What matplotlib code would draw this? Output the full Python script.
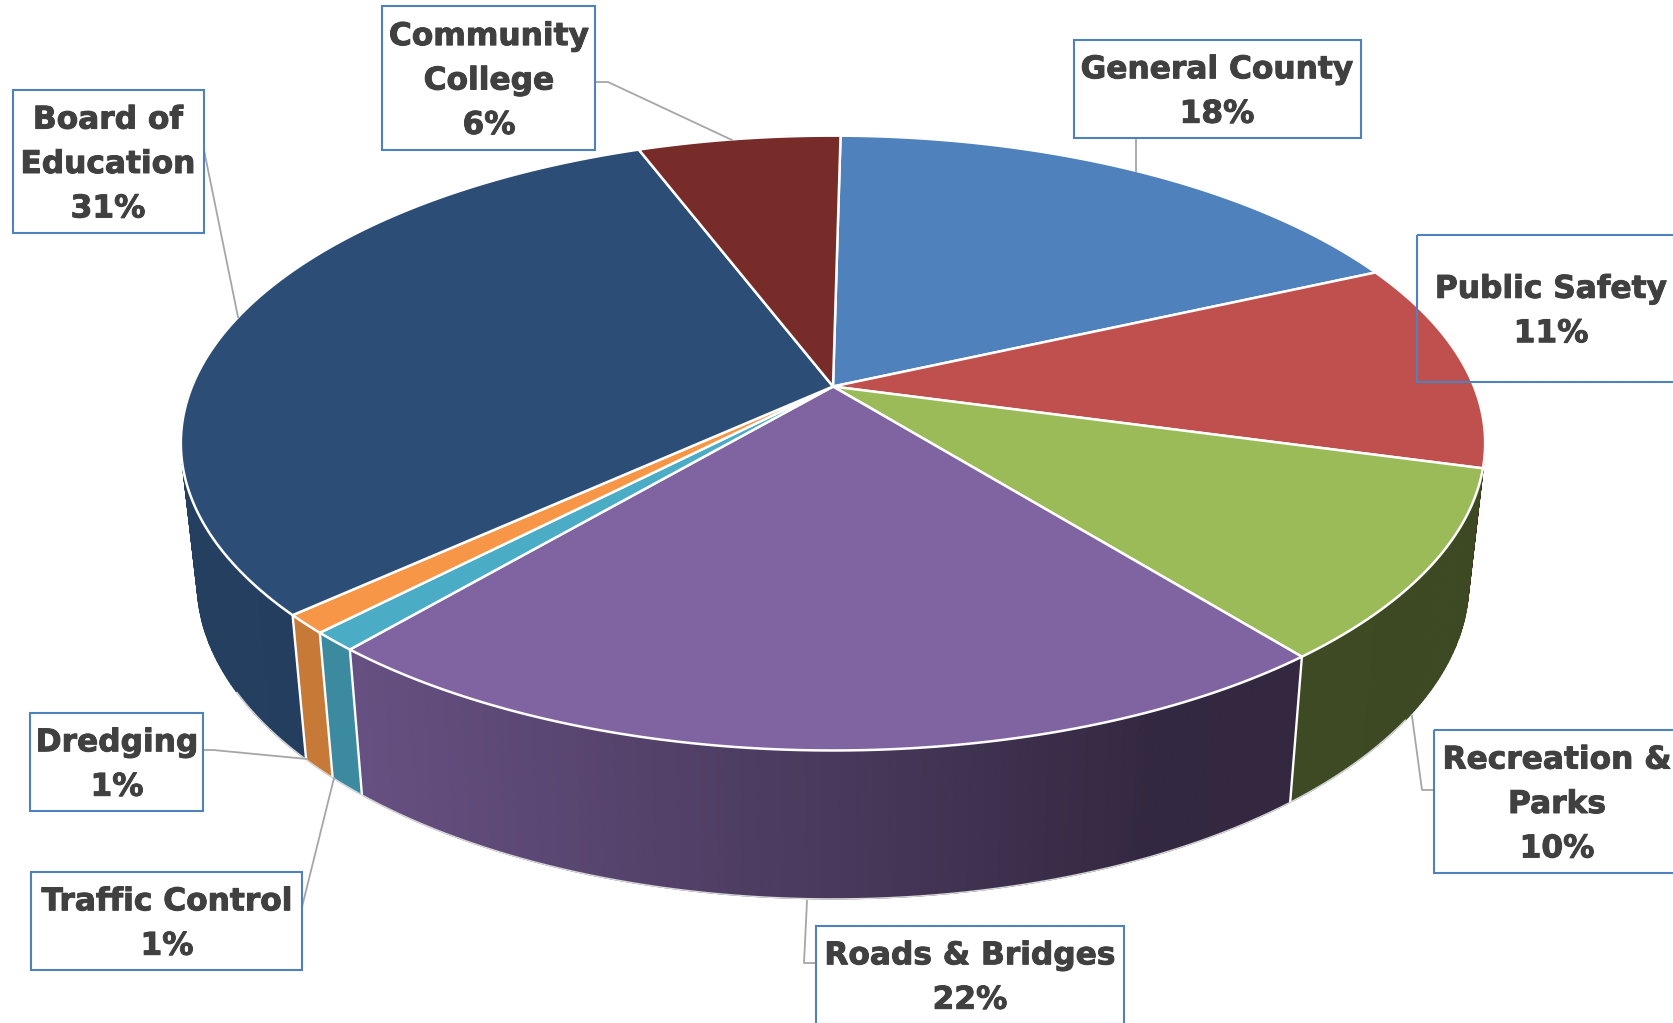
import numpy as np
import matplotlib
matplotlib.use('Agg')
import matplotlib.pyplot as plt
import matplotlib.patheffects as pe
from matplotlib.collections import PolyCollection
from matplotlib.patches import Polygon, Rectangle

categories = ['General County', 'Public Safety', 'Recreation &\nParks', 'Roads & Bridges',
              'Traffic Control', 'Dredging', 'Board of\nEducation', 'Community\nCollege']
values = [18, 11, 10, 22, 1, 1, 31, 6]
colors = ['#4f81bd', '#c0504d', '#9bbb59', '#8064a2', '#4bacc6', '#f79646', '#2c4d75', '#772c2a']

# label boxes in pixels: left, top, right, bottom, text centre x
boxes = [(1074, 40, 1361, 138, 1217),
         (1417, 235, 1700, 382, 1551),
         (1434, 730, 1700, 873, 1557),
         (816, 926, 1124, 1024, 970),
         (31, 872, 302, 970, 167),
         (30, 713, 203, 811, 117),
         (13, 90, 204, 233, 108),
         (382, 6, 595, 150, 489)]
leaders = [[(1136, 138), (1136, 171)],
           [],
           [(1434, 790), (1422, 790), (1412, 716)],
           [(816, 963), (804, 963), (807, 901)],
           [(302, 907), (334, 778)],
           [(203, 750), (213, 750), (307, 759)],
           [(204, 150), (238, 317)],
           [(595, 82), (608, 82), (732, 140)]]

# perspective disc
CX, CY = 833, 386.5
A, B, K = 641, 297, 0.184
START = np.radians(0.8)
DEPTH = 137.5
BOTTOM_SX, BOTTOM_SY = 0.975, 1.03


def top_xy(theta):
    # theta runs clockwise from 12 o'clock
    u, v = np.sin(theta), np.cos(theta)
    w = 1 + K * v
    return CX + A * u / w, CY - B * v / w


def bottom_xy(theta):
    x, y = top_xy(theta)
    return CX + (x - CX) * BOTTOM_SX, CY + (y - CY) * BOTTOM_SY + DEPTH


def shade(x):
    return np.interp((x - CX) / A, [-1, -0.75, 0, 0.5, 1], [0.82, 0.80, 0.57, 0.40, 0.39])


fig = plt.figure(figsize=(16.74, 10.23), dpi=100)
ax = fig.add_axes([0, 0, 1, 1])
ax.set_xlim(0, 1674)
ax.set_ylim(1023, 0)
ax.axis('off')

edges = START + np.radians(np.cumsum([0] + values) * 3.6)

# side wall, back to front
quads, quad_colors, quad_depth = [], [], []
for i, c in enumerate(colors):
    rgb = np.array(matplotlib.colors.to_rgb(c))
    n = max(int(values[i] * 6), 4)
    t = np.linspace(edges[i], edges[i + 1], n + 1)
    for t0, t1 in zip(t[:-1], t[1:]):
        x0, y0 = top_xy(t0)
        x1, y1 = top_xy(t1)
        x2, y2 = bottom_xy(t1)
        x3, y3 = bottom_xy(t0)
        quads.append([(x0, y0), (x1, y1), (x2, y2), (x3, y3)])
        quad_colors.append(rgb * shade((x0 + x1) / 2))
        quad_depth.append(np.cos((t0 + t1) / 2))
order = np.argsort(quad_depth)[::-1]
ax.add_collection(PolyCollection([quads[j] for j in order],
                                 facecolors=[quad_colors[j] for j in order],
                                 edgecolors=[quad_colors[j] for j in order],
                                 linewidths=0.8, zorder=1))

# white seams on the front of the wall
for t in edges:
    if np.cos(t) < -0.3:
        x0, y0 = top_xy(t)
        x1, y1 = bottom_xy(t)
        ax.plot([x0, x1], [y0, y1], color='white', lw=1.7, zorder=2)

# wall outline along the bottom
t = np.linspace(np.radians(125), np.radians(240), 300)
bx, by = bottom_xy(t)
ax.plot(bx, by, color='#d9d9d9', lw=1.0, zorder=2)

# top face
for i, c in enumerate(colors):
    t = np.linspace(edges[i], edges[i + 1], max(values[i] * 6, 6))
    x, y = top_xy(t)
    pts = np.column_stack([np.r_[CX, x], np.r_[CY, y]])
    ax.add_patch(Polygon(pts, closed=True, facecolor=c, edgecolor='white', lw=1.8,
                         joinstyle='round', zorder=3))

for line in leaders:
    if line:
        xs, ys = zip(*line)
        ax.plot(xs, ys, color='#a6a6a6', lw=1.3, zorder=4)

for name, v, (l, top, r, bot, tx) in zip(categories, values, boxes):
    ax.add_patch(Rectangle((l, top), r - l, bot - top, fill=False, edgecolor='#4f81bd',
                           lw=1.5, zorder=5))
    ax.text(tx, (top + bot) / 2 + 3, f'{name}\n{v}%', ha='center', va='center', ma='center',
            family='DejaVu Sans', fontweight='bold', fontsize=22.5, color='#404040',
            linespacing=1.67, zorder=6,
            path_effects=[pe.withStroke(linewidth=0.7, foreground='#404040')])

fig.savefig('out.png', dpi=100, facecolor='white')
